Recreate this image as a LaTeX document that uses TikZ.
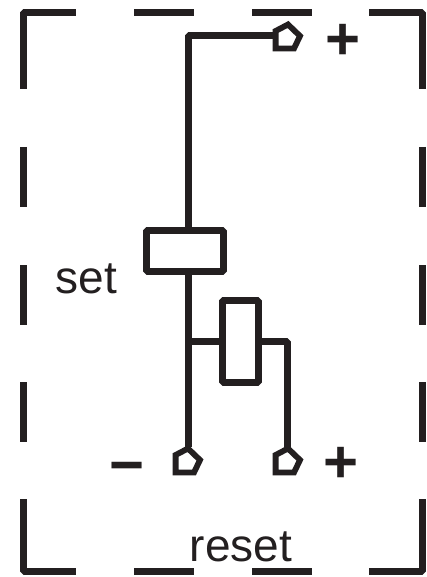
\documentclass[tikz,border=0pt]{standalone}
\usepackage{fontspec}
\setmainfont{Liberation Sans}
\definecolor{ink}{HTML}{231F20}
\tikzset{
  frameline/.style={draw=ink,line width=7pt,line join=bevel},
  wire/.style={draw=ink,line width=7pt,line join=bevel},
  coil/.style={draw=ink,fill=white,line width=7pt,line join=bevel,inner sep=0pt,outer sep=0pt},
  terminal/.style={draw=ink,fill=white,line width=5.8pt,line join=miter},
  label/.style={anchor=base,text=ink,inner sep=0pt,font=\fontsize{46}{50}\selectfont},
  sign/.style={anchor=center,text=ink,inner sep=0pt,font=\fontsize{60}{64}\selectfont\bfseries}
}
\begin{document}
\begin{tikzpicture}[x=1pt,y=-1pt]
  \useasboundingbox (0,0) rectangle (426,577);
  % dashed frame
  \draw[frameline] (23.5,89) -- (23.5,12.3) -- (76,12.3);
  \draw[frameline] (369,12.3) -- (422.5,12.3) -- (422.5,89);
  \draw[frameline] (23.5,499) -- (23.5,571) -- (76,571);
  \draw[frameline] (369,571) -- (422.5,571) -- (422.5,499);
  \foreach \xa/\xb in {134/194,252/312} {
    \draw[frameline] (\xa,12.3) -- (\xb,12.3);
    \draw[frameline] (\xa,571) -- (\xb,571);
  }
  \foreach \ya/\yb in {147/207,265/325,382/442} {
    \draw[frameline] (23.5,\ya) -- (23.5,\yb);
    \draw[frameline] (422.5,\ya) -- (422.5,\yb);
  }
  % coils
  \node[coil,minimum width=77pt,minimum height=41pt] (setcoil) at (184.8,251) {};
  \node[coil,minimum width=35.7pt,minimum height=82pt] (resetcoil) at (240.8,341.7) {};
  \coordinate (topin) at (275.5,36);
  \coordinate (minusin) at (188,447);
  \coordinate (plusin) at (287.5,447);
  \coordinate (branch) at (188,341.7);
  % wires
  \draw[wire] (topin) -| (setcoil.north -| branch);
  \draw[wire] (setcoil.south -| branch) -- (minusin);
  \draw[wire] (branch) -- (resetcoil.west);
  \draw[wire] (resetcoil.east) -| (plusin);
  % terminals
  \foreach \tx/\ty in {0/0,-100/424,0/424} {
    \draw[terminal,shift={(\tx pt,-\ty pt)}] (275.6,31) -- (288,24.5) -- (300,36) -- (294,48.5) -- (275.6,48.5) -- cycle;
  }
  % labels
  \node[label] (setlabel) at (86.5,293) {set};
  \node[label] (resetlabel) at (241,561.7) {reset};
  \node[sign] (plustop) at (343,42) {+};
  \node[sign] (plusbottom) at (341,465) {+};
  \node[sign] (minusbottom) at (127,474) {−};
\end{tikzpicture}
\end{document}
